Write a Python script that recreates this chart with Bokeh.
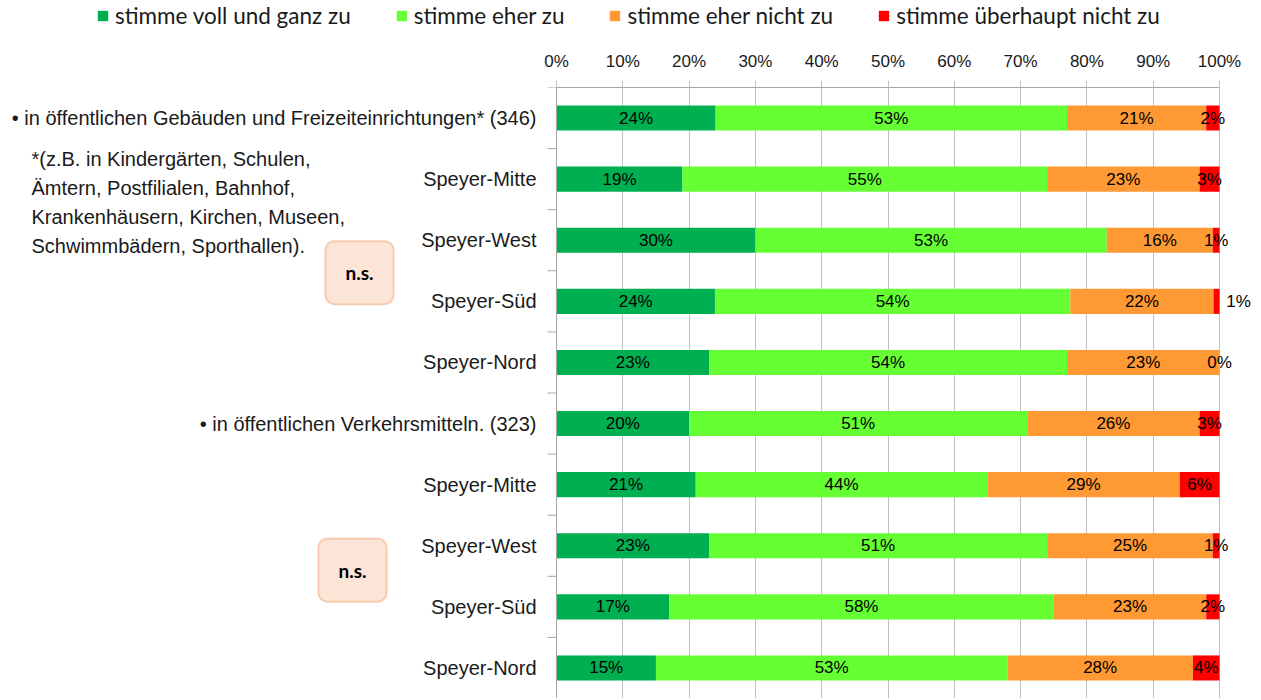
from bokeh.plotting import figure
from bokeh.layouts import column
from bokeh.models import (Range1d, FixedTicker, ColumnDataSource, LabelSet, Label,
                          Legend, LegendItem, PrintfTickFormatter, Span)
from bokeh.core.properties import value
from bokeh.embed import file_html
from bokeh.resources import INLINE

# ---------------- data ----------------
categories = [
    "• in öffentlichen Gebäuden und Freizeiteinrichtungen* (346)",
    "Speyer-Mitte", "Speyer-West", "Speyer-Süd", "Speyer-Nord",
    "• in öffentlichen Verkehrsmitteln. (323)",
    "Speyer-Mitte", "Speyer-West", "Speyer-Süd", "Speyer-Nord",
]
series_names = ["stimme voll und ganz zu", "stimme eher zu",
                "stimme eher nicht zu", "stimme überhaupt nicht zu"]
voll_und_ganz = [24, 19, 30, 23.9, 23, 20, 21, 23, 17, 15]
eher_zu = [53, 55, 53, 53.6, 54, 51, 44, 51, 58, 53]
eher_nicht = [21, 23, 16, 21.6, 23, 26, 29, 25, 23, 28]
ueberhaupt_nicht = [2, 3, 1, 0.9, 0, 3, 6, 1, 2, 4]
x_ticks = [0, 10, 20, 30, 40, 50, 60, 70, 80, 90, 100]
note_text = ("*(z.B. in Kindergärten, Schulen,\n"
             "Ämtern, Postfilialen,  Bahnhof,\n"
             "Krankenhäusern, Kirchen, Museen,\n"
             "Schwimmbädern, Sporthallen).")
ns_text = "n.s."

# ---------------- style / layout ----------------
colors = ["#00B050", "#66FF33", "#FF9933", "#FF0000"]
FONT = "Liberation Sans"
LEG_FONT = "Lato"
GRID = "#C0C0C0"
AXIS = "#A6A6A6"
TEXT = "#1a1a1a"
W = 1261
LEG_H = 36
MAIN_H = 662
X0_PX, X100_PX = 556, 1219          # pixel positions of 0% and 100%
PX_PER_UNIT = (X100_PX - X0_PX) / 100.0
red_label_shift = [0, 0, 0, 22, 0, 0, 0, 0, 0, 0]

n = len(categories)
rows = [i + 0.5 for i in range(n)]
bounds = list(range(n + 1))

# ---------------- main chart ----------------
p = figure(width=W, height=MAIN_H,
           x_range=Range1d(-X0_PX / PX_PER_UNIT, (W - X0_PX) / PX_PER_UNIT),
           y_range=Range1d(n, 0),
           output_backend="svg", toolbar_location=None,
           x_axis_location="above", y_axis_location=None,
           min_border_left=0, min_border_right=0, min_border_top=51,
           min_border_bottom=0)
p.outline_line_color = None
p.background_fill_color = "white"
p.border_fill_color = "white"

# x axis (top)
p.xaxis.ticker = FixedTicker(ticks=x_ticks)
p.xaxis.bounds = (0, 100)
p.xaxis.formatter = PrintfTickFormatter(format="%d%%")
p.xaxis.axis_line_color = AXIS
p.xaxis.major_tick_line_color = GRID
p.xaxis.major_tick_out = 7
p.xaxis.major_tick_in = 0
p.xaxis.minor_tick_line_color = None
p.xaxis.major_label_text_font = FONT
p.xaxis.major_label_text_font_size = "17px"
p.xaxis.major_label_text_color = TEXT
p.xaxis.major_label_standoff = 10
p.xgrid.ticker = FixedTicker(ticks=x_ticks)
p.xgrid.grid_line_color = GRID
p.xgrid.grid_line_width = 1
p.ygrid.visible = False

# left category axis: line, boundary ticks, labels
p.add_layout(Span(location=0, dimension="height", line_color=AXIS, line_width=1))
p.ray(x=[0] * len(bounds), y=bounds, length=9, length_units="screen",
      angle=180, angle_units="deg", line_color=AXIS, line_width=1)
p.text(x=[0] * n, y=rows, text=categories, x_offset=-20,
       text_align="right", text_baseline="middle",
       text_font=value(FONT), text_font_size="20px", text_color=TEXT)

# stacked bars
series = [voll_und_ganz, eher_zu, eher_nicht, ueberhaupt_nicht]
lefts = [0.0] * n
lab_x, lab_y, lab_t, lab_off = [], [], [], []
for k, vals in enumerate(series):
    rights = [l + v for l, v in zip(lefts, vals)]
    src = ColumnDataSource(dict(y=rows, left=lefts, right=rights))
    p.hbar(y="y", left="left", right="right", height=0.41, source=src,
           fill_color=colors[k], line_color=None)
    for i in range(n):
        lab_x.append((lefts[i] + rights[i]) / 2)
        lab_y.append(rows[i])
        lab_t.append(f"{round(vals[i])}%")
        lab_off.append(red_label_shift[i] if k == 3 else 0)
    lefts = rights

lsrc = ColumnDataSource(dict(x=lab_x, y=lab_y, text=lab_t, xoff=lab_off))
p.add_layout(LabelSet(x="x", y="y", text="text", x_offset="xoff", source=lsrc,
                      text_align="center", text_baseline="middle",
                      text_font=value(FONT), text_font_size="17px",
                      text_color="#000000"))

# explanatory note
p.add_layout(Label(x=(31 - X0_PX) / PX_PER_UNIT, y=1.88, text=note_text,
                   text_align="left", text_baseline="middle", text_font=FONT,
                   text_font_size="20px", text_line_height=1.32,
                   text_color=TEXT))

# n.s. boxes
for bx_px, by in [(359, 3.03), (352, 7.9)]:
    p.add_layout(Label(x=(bx_px - X0_PX) / PX_PER_UNIT, y=by, text=ns_text,
                       text_align="center", text_baseline="middle",
                       text_font=LEG_FONT, text_font_style="bold",
                       text_font_size="19px", text_color="#000000",
                       background_fill_color="#FCE4D6",
                       border_line_color="#F8CBAD", border_line_width=2,
                       border_radius=9, padding=20))

# ---------------- legend strip ----------------
lg = figure(width=W, height=LEG_H, x_range=Range1d(0, 1), y_range=Range1d(0, 1),
            output_backend="svg", toolbar_location=None,
            x_axis_location=None, y_axis_location=None,
            min_border_left=0, min_border_right=0, min_border_top=0,
            min_border_bottom=0)
lg.outline_line_color = None
lg.xgrid.visible = False
lg.ygrid.visible = False
leg_renderers = []
for k in range(4):
    # zero-width placeholder bar: only provides the legend swatch style
    leg_renderers.append(lg.hbar(y=[0.5], left=[0], right=[0], height=0.5,
                                 fill_color=colors[k], line_color=None))
legend = Legend(items=[LegendItem(label=nm, renderers=[r])
                       for nm, r in zip(series_names, leg_renderers)],
                orientation="horizontal", location=(96, 7),
                label_text_font=LEG_FONT, label_text_font_size="22.5px",
                label_text_color=TEXT,
                glyph_width=13, glyph_height=13, label_standoff=6,
                spacing=44, padding=0, margin=0, label_height=22,
                border_line_color=None, background_fill_alpha=0)
lg.add_layout(legend)

layout = column(lg, p, spacing=0)
open("out.html", "w").write(file_html(layout, INLINE))
